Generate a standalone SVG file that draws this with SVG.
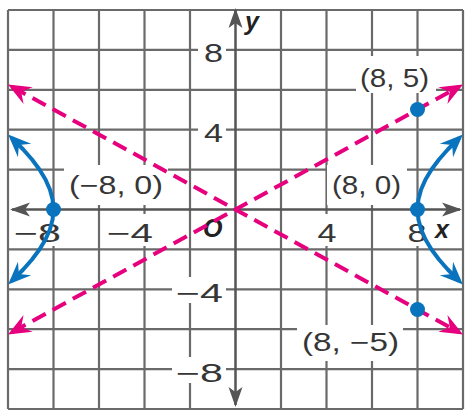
<svg xmlns="http://www.w3.org/2000/svg" width="470" height="412" viewBox="0 0 470 412">
<defs>
<style>
.grid{stroke:#6a6a6a;stroke-width:2.2;fill:none}
.axis{stroke:#555;stroke-width:2.5;fill:none}
.box{fill:#fff;stroke:none}
.lbl{font-family:"Liberation Sans",Arial,sans-serif;font-size:25px;fill:#363636}
.var{font-family:"Liberation Sans",Arial,sans-serif;font-size:25px;font-weight:bold;font-style:italic;fill:#222}
.asym{stroke:#e6007e;stroke-width:4;fill:none;stroke-dasharray:15 8}
.hyp{stroke:#0a73bd;stroke-width:4;fill:none;stroke-linejoin:round}
.dot{fill:#0a73bd}
</style>
<marker id="ahAxis" markerUnits="userSpaceOnUse" markerWidth="22" markerHeight="14" refX="18" refY="7" orient="auto-start-reverse" overflow="visible">
<path d="M20,7 L0,0 L5,7 L0,14 Z" fill="#555"/>
</marker>
<marker id="ahPink" markerUnits="userSpaceOnUse" markerWidth="26" markerHeight="20" refX="19" refY="10" orient="auto-start-reverse" overflow="visible">
<path d="M24,10 L1,0.5 L9,10 L1,19.5 Z" fill="#e6007e"/>
</marker>
<marker id="ahBlue" markerUnits="userSpaceOnUse" markerWidth="26" markerHeight="20" refX="19" refY="10" orient="auto-start-reverse" overflow="visible">
<path d="M24,10 L1,0.5 L9,10 L1,19.5 Z" fill="#0a73bd"/>
</marker>
</defs>
<rect width="470" height="412" fill="#fff"/>
<g id="grid" class="grid">
<path d="M8,10V409M53.5,10V409M99,10V409M144.5,10V409M190,10V409M281,10V409M326.5,10V409M372,10V409M417.5,10V409M463,10V409"/>
<path d="M8,10H463M8,49.9H463M8,89.8H463M8,129.7H463M8,169.6H463M8,249.4H463M8,289.3H463M8,329.2H463M8,369.1H463M8,409H463"/>
</g>
<g id="label-boxes">
<rect class="box" x="198" y="38" width="28" height="26"/>
<rect class="box" x="198" y="117" width="28" height="26"/>
<rect class="box" x="172" y="277" width="54" height="26"/>
<rect class="box" x="172" y="357" width="54" height="26"/>
<rect class="box" x="12" y="214" width="52" height="32"/>
<rect class="box" x="104" y="214" width="52" height="32"/>
<rect class="box" x="316" y="214" width="22" height="32"/>
<rect class="box" x="406" y="214" width="24" height="32"/>
<rect class="box" x="64" y="165" width="104" height="40"/>
<rect class="box" x="327" y="165" width="80" height="40"/>
<rect class="box" x="356" y="56" width="80" height="37"/>
<rect class="box" x="297" y="325" width="106" height="36"/>
</g>
<g id="axes">
<path id="x-axis" class="axis" d="M12,209.5H460" marker-start="url(#ahAxis)" marker-end="url(#ahAxis)"/>
<path id="y-axis" class="axis" d="M235.5,10V405" marker-start="url(#ahAxis)" marker-end="url(#ahAxis)"/>
</g>
<g id="tick-labels" class="lbl">
<text x="213.5" y="62" text-anchor="middle" textLength="19" lengthAdjust="spacingAndGlyphs">8</text>
<text x="213.5" y="142" text-anchor="middle" textLength="19" lengthAdjust="spacingAndGlyphs">4</text>
<text x="176" y="302" textLength="47" lengthAdjust="spacingAndGlyphs">−4</text>
<text x="176" y="382" textLength="47" lengthAdjust="spacingAndGlyphs">−8</text>
<text x="14" y="242" textLength="47" lengthAdjust="spacingAndGlyphs">−8</text>
<text x="107" y="242" textLength="46" lengthAdjust="spacingAndGlyphs">−4</text>
<text x="327" y="242" text-anchor="middle" textLength="19" lengthAdjust="spacingAndGlyphs">4</text>
<text x="417" y="242" text-anchor="middle" textLength="19" lengthAdjust="spacingAndGlyphs">8</text>
</g>
<g id="axis-names" class="var">
<text x="245" y="30">y</text>
<text x="435" y="238">x</text>
<text x="203" y="237">O</text>
</g>
<g id="connectors">
<path id="asymptote-neg" class="asym" d="M12.38,86.91L458.62,332.09" marker-start="url(#ahPink)" marker-end="url(#ahPink)"/>
<path id="asymptote-pos" class="asym" d="M12.38,332.09L458.62,86.91" marker-start="url(#ahPink)" marker-end="url(#ahPink)"/>
<path id="branch-right" class="hyp" d="M459.3,281.1L457.66,279.5L447.75,269.5L438.98,259.5L431.52,249.5L425.51,239.5L421.11,229.5L418.41,219.5L417.5,209.5L418.41,199.5L421.11,189.5L425.51,179.5L431.52,169.5L438.98,159.5L447.75,149.5L457.66,139.5L459.3,137.9" marker-start="url(#ahBlue)" marker-end="url(#ahBlue)"/>
<path id="branch-left" class="hyp" d="M11.7,281.1L13.34,279.5L23.25,269.5L32.02,259.5L39.48,249.5L45.49,239.5L49.89,229.5L52.59,219.5L53.5,209.5L52.59,199.5L49.89,189.5L45.49,179.5L39.48,169.5L32.02,159.5L23.25,149.5L13.34,139.5L11.7,137.9" marker-start="url(#ahBlue)" marker-end="url(#ahBlue)"/>
</g>
<g id="point-v1"><circle class="dot" cx="53.5" cy="209.5" r="7.5"/><text class="lbl" x="69" y="194" textLength="94" lengthAdjust="spacingAndGlyphs">(−8, 0)</text></g>
<g id="point-v2"><circle class="dot" cx="417.5" cy="209.5" r="7.5"/><text class="lbl" x="332" y="194" textLength="69" lengthAdjust="spacingAndGlyphs">(8, 0)</text></g>
<g id="point-p1"><circle class="dot" cx="417.5" cy="109.5" r="7.5"/><text class="lbl" x="360" y="87" textLength="69" lengthAdjust="spacingAndGlyphs">(8, 5)</text></g>
<g id="point-p2"><circle class="dot" cx="417.5" cy="309.5" r="7.5"/><text class="lbl" x="302" y="351" textLength="97" lengthAdjust="spacingAndGlyphs">(8, −5)</text></g>
</svg>
